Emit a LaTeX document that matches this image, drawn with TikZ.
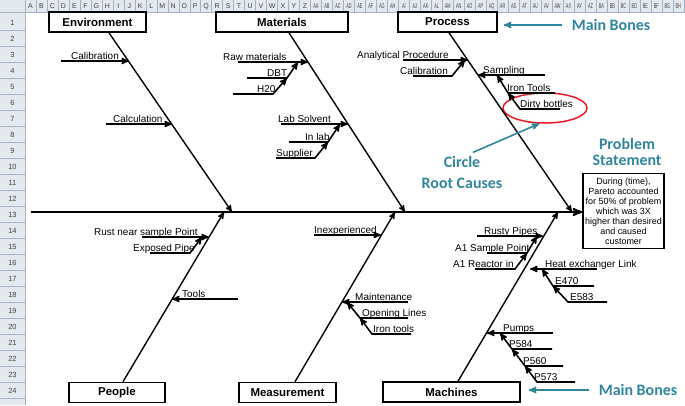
\documentclass[tikz,border=0pt]{standalone}
\usepackage{fontspec}
\setmainfont{Liberation Sans}
\newfontfamily\notefont{Carlito}
\usetikzlibrary{arrows,shapes.geometric,positioning}

\definecolor{notecolor}{RGB}{49,133,156}
\definecolor{hdrfill}{RGB}{228,233,240}
\definecolor{hdrline}{RGB}{165,178,196}
\definecolor{circred}{RGB}{232,28,36}

\begin{document}
\begin{tikzpicture}[x=1bp, y=-1bp, >=stealth',
	hdrtext/.style={font=\fontsize{7}{8}\selectfont, text=black!75, inner sep=0pt},
	bonebox/.style={draw, line width=1.6pt, inner sep=0pt, minimum height=20bp, font=\bfseries\fontsize{11.5}{13}\selectfont},
	probbox/.style={draw, line width=1.6pt, inner sep=0pt, minimum width=81bp, minimum height=75bp, align=center, font=\fontsize{9}{10}\selectfont},
	cause/.style={font=\fontsize{10}{12}\selectfont, inner sep=0pt, anchor=base west, yshift=-1bp},
	bone/.style={line width=1.4pt, ->},
	twig/.style={line width=1.6pt, ->},
	note/.style={text=notecolor, font=\notefont\bfseries\fontsize{16}{16}\selectfont, align=center},
	notearrow/.style={draw=notecolor, line width=1.6pt, ->}]

	\fill[white] (0,0) rectangle (685,405);
	\useasboundingbox (0,0) rectangle (685,405);

	% Sheet headers {A, B, ..., BH} and {1, ..., 24}
	\fill[hdrfill] (0,0) rectangle (685,12);
	\fill[hdrfill] (0,12) rectangle (25,405);
	\draw[hdrline] (0,12) -- (685,12);
	\draw[hdrline] (25,0) -- (25,405);
	\foreach \c [count=\i] in {A,B,C,D,E,F,G,H,I,J,K,L,M,N,O,P,Q,R,S,T,U,V,W,X,Y,Z,AA,AB,AC,AD,AE,AF,AG,AH,AI,AJ,AK,AL,AM,AN,AO,AP,AQ,AR,AS,AT,AU,AV,AW,AX,AY,AZ,BA,BB,BC,BD,BE,BF,BG,BH} {
		\pgfmathsetmacro\cx{25+10.98*\i}
		\draw[hdrline] (\cx,0) -- (\cx,12);
		\node[hdrtext] (col\i) at (\cx-5.49,6.5) {\ifnum\i>26 \scalebox{0.55}[1]{\c}\else\c\fi};
	}
	\foreach \r in {1,...,24} {
		\pgfmathsetmacro\ry{14.3+16*\r}
		\draw[hdrline] (0,\ry) -- (25,\ry);
		\node[hdrtext, font=\fontsize{7.5}{8}\selectfont] (row\r) at (12.5,\ry-7) {\r};
	}

	% Nodes {main bones, problem}
	\node [bonebox, minimum width=97bp]		(env)	at (97.5,22)	{Environment};
	\node [bonebox, minimum width=132bp]	(mat)	at (282,22)		{Materials};
	\node [bonebox, minimum width=99bp]		(proc)	at (447.5,22)	{Process};
	\node [bonebox, minimum width=96bp]		(ppl)	at (117,392.5)	{People};
	\node [bonebox, minimum width=97bp]		(meas)	at (287.5,392.5){Measurement};
	\node [bonebox, minimum width=137bp]	(mach)	at (451.5,392)	{Machines};
	\node [probbox]							(prob)	at (623.5,211)	{During (time),\\Pareto accounted\\for 50\% of problem\\which was 3X\\higher than desired\\and caused\\customer};

	% Notes
	\node [note]	(mbtop)		at (611,25)		{Main Bones};
	\node [note]	(mbbot)		at (638,390)	{Main Bones};
	\node [note]	(probtitle)	at (627,152)	{Problem\\Statement};
	\node [note]	(circnote)	at (462,172)	{Circle\\[5bp]Root Causes};
	\node [draw=circred, line width=1.5pt, ellipse, minimum width=84bp, minimum height=30bp] (rootc) at (545,108) {};

	% Cause texts
	\node [cause]	(envcal)	at (71,58)		{Calibration};
	\node [cause]	(envcalc)	at (113,121)	{Calculation};
	\node [cause]	(raw)		at (223,59)		{Raw materials};
	\node [cause]	(dbt)		at (267,75)		{DBT};
	\node [cause]	(htwo)		at (257,91)		{H20};
	\node [cause]	(labsol)	at (278,121)	{Lab Solvent};
	\node [cause]	(inlab)		at (305,139)	{In lab};
	\node [cause]	(supp)		at (276,155)	{Supplier};
	\node [cause]	(anal)		at (357,57)		{Analytical Procedure};
	\node [cause]	(proccal)	at (400,73)		{Calibration};
	\node [cause]	(samp)		at (483,72)		{Sampling};
	\node [cause]	(irontl)	at (507,90)		{Iron Tools};
	\node [cause]	(dirty)		at (520,106)	{Dirty bottles};
	\node [cause]	(rust)		at (94,234)		{Rust near sample Point};
	\node [cause]	(expipe)	at (133,250)	{Exposed Pipe};
	\node [cause]	(tools)		at (182,296)	{Tools};
	\node [cause]	(inexp)		at (314,232)	{Inexperienced};
	\node [cause]	(maint)		at (355,299)	{Maintenance};
	\node [cause]	(openl)		at (362,315)	{Opening Lines};
	\node [cause]	(irontls)	at (373,331)	{Iron tools};
	\node [cause]	(rusty)		at (484,233)	{Rusty Pipes};
	\node [cause]	(aonesp)	at (455,250)	{A1 Sample Point};
	\node [cause]	(aonera)	at (453,266)	{A1 Reactor in};
	\node [cause]	(heatx)		at (545,266)	{Heat exchanger Link};
	\node [cause]	(efour)		at (555,283)	{E470};
	\node [cause]	(efive)		at (570,299)	{E583};
	\node [cause]	(pumps)		at (503,330)	{Pumps};
	\node [cause]	(pfour)		at (509,346)	{P584};
	\node [cause]	(pfive)		at (523,363)	{P560};
	\node [cause]	(pseven)	at (534,379)	{P573};

	% Coordinates {bone hits, twig ends}
	\coordinate (spinetail)	at (31,212);
	\coordinate (envhit)	at (232,212);
	\coordinate (mathit)	at (405,212);
	\coordinate (prochit)	at (572,212);
	\coordinate (pplhit)	at (224,212);
	\coordinate (meashit)	at (395,212);
	\coordinate (machhit)	at (558,212);

	\coordinate (envcal-a)	at (61,61);		\coordinate (envcal-b)	at (129,61);
	\coordinate (envcalc-a)	at (106,124);	\coordinate (envcalc-b)	at (172,124);
	\coordinate (raw-a)		at (238,62);	\coordinate (raw-b)		at (308,62);
	\coordinate (dbt-a)		at (247,78);	\coordinate (dbt-k)		at (287,78);	\coordinate (dbt-b)		at (298,62);
	\coordinate (htwo-a)	at (233,94);	\coordinate (htwo-k)	at (273,94);
	\coordinate (labsol-a)	at (281,124);	\coordinate (labsol-b)	at (348,124);
	\coordinate (inlab-a)	at (289,142);	\coordinate (inlab-k)	at (328,142);	\coordinate (inlab-b)	at (340,124);
	\coordinate (supp-a)	at (276,158);	\coordinate (supp-k)	at (315,158);
	\coordinate (anal-a)	at (403,60);	\coordinate (anal-b)	at (468,60);
	\coordinate (proccal-a)	at (413,76);	\coordinate (proccal-k)	at (452,76);	\coordinate (proccal-b)	at (465,60);
	\coordinate (samp-a)	at (545,75);	\coordinate (samp-b)	at (478,75);
	\coordinate (irontl-a)	at (555,93);	\coordinate (irontl-k)	at (508,93);	\coordinate (irontl-b)	at (497,75);
	\coordinate (dirty-a)	at (560,109);	\coordinate (dirty-k)	at (520,109);
	\coordinate (rust-a)	at (142,237);	\coordinate (rust-b)	at (209,237);
	\coordinate (expipe-a)	at (150,253);	\coordinate (expipe-k)	at (190,253);	\coordinate (expipe-b)	at (202,237);
	\coordinate (tools-a)	at (238,299);	\coordinate (tools-b)	at (172,299);
	\coordinate (inexp-a)	at (314,235);	\coordinate (inexp-b)	at (381,235);
	\coordinate (maint-a)	at (408,302);	\coordinate (maint-b)	at (342,302);
	\coordinate (openl-a)	at (408,318);	\coordinate (openl-k)	at (360,318);	\coordinate (openl-b)	at (347,302);
	\coordinate (irontls-a)	at (411,334);	\coordinate (irontls-k)	at (372,334);
	\coordinate (rusty-a)	at (477,236);	\coordinate (rusty-b)	at (543,236);
	\coordinate (aonesp-a)	at (487,253);	\coordinate (aonesp-k)	at (527,253);	\coordinate (aonesp-b)	at (537,236);
	\coordinate (aonera-a)	at (475,269);	\coordinate (aonera-k)	at (515,269);
	\coordinate (heatx-a)	at (597,269);	\coordinate (heatx-b)	at (530,269);
	\coordinate (efour-a)	at (594,286);	\coordinate (efour-k)	at (553,286);	\coordinate (efour-b)	at (542,269);
	\coordinate (efive-a)	at (607,302);	\coordinate (efive-k)	at (568,302);
	\coordinate (pumps-a)	at (553,333);	\coordinate (pumps-b)	at (487,333);
	\coordinate (pfour-a)	at (552,349);	\coordinate (pfour-k)	at (512,349);	\coordinate (pfour-b)	at (500,333);
	\coordinate (pfive-a)	at (563,366);	\coordinate (pfive-k)	at (525,366);
	\coordinate (pseven-a)	at (575,382);	\coordinate (pseven-k)	at (537,382);

	% Spine and bones
	\draw [line width=2.2pt, ->]	(spinetail) -- (prob.west |- spinetail);
	\draw [bone]	([xshift=11.5bp]env.south)	-- (envhit);
	\draw [bone]	([xshift=7bp]mat.south)		-- (mathit);
	\draw [bone]	([xshift=1.5bp]proc.south)	-- (prochit);
	\draw [bone]	([xshift=6bp]ppl.north)		-- (pplhit);
	\draw [bone]	([xshift=7.5bp]meas.north)	-- (meashit);
	\draw [bone]	([xshift=6.5bp]mach.north)	-- (machhit);

	% Twigs
	\draw [twig]	(envcal-a)		-- (envcal-b);
	\draw [twig]	(envcalc-a)		-- (envcalc-b);
	\draw [twig]	(raw-a)			-- (raw-b);
	\draw [twig]	(dbt-a)			-- (dbt-k)		-- (dbt-b);
	\draw [twig]	(htwo-a)		-- (htwo-k)		-- (dbt-k);
	\draw [twig]	(labsol-a)		-- (labsol-b);
	\draw [twig]	(inlab-a)		-- (inlab-k)	-- (inlab-b);
	\draw [twig]	(supp-a)		-- (supp-k)		-- (inlab-k);
	\draw [twig]	(anal-a)		-- (anal-b);
	\draw [twig]	(proccal-a)		-- (proccal-k)	-- (proccal-b);
	\draw [twig]	(samp-a)		-- (samp-b);
	\draw [twig]	(irontl-a)		-- (irontl-k)	-- (irontl-b);
	\draw [twig]	(dirty-a)		-- (dirty-k)	-- (irontl-k);
	\draw [twig]	(rust-a)		-- (rust-b);
	\draw [twig]	(expipe-a)		-- (expipe-k)	-- (expipe-b);
	\draw [twig]	(tools-a)		-- (tools-b);
	\draw [twig]	(inexp-a)		-- (inexp-b);
	\draw [twig]	(maint-a)		-- (maint-b);
	\draw [twig]	(openl-a)		-- (openl-k)	-- (openl-b);
	\draw [twig]	(irontls-a)		-- (irontls-k)	-- (openl-k);
	\draw [twig]	(rusty-a)		-- (rusty-b);
	\draw [twig]	(aonesp-a)		-- (aonesp-k)	-- (aonesp-b);
	\draw [twig]	(aonera-a)		-- (aonera-k)	-- (aonesp-k);
	\draw [twig]	(heatx-a)		-- (heatx-b);
	\draw [twig]	(efour-a)		-- (efour-k)	-- (efour-b);
	\draw [twig]	(efive-a)		-- (efive-k)	-- (efour-k);
	\draw [twig]	(pumps-a)		-- (pumps-b);
	\draw [twig]	(pfour-a)		-- (pfour-k)	-- (pfour-b);
	\draw [twig]	(pfive-a)		-- (pfive-k)	-- (pfour-k);
	\draw [twig]	(pseven-a)		-- (pseven-k)	-- (pfive-k);

	% Note arrows
	\draw [notearrow]	([xshift=-6bp]mbtop.west)		-- ([xshift=6bp]proc.east |- mbtop);
	\draw [notearrow]	([xshift=-6bp]mbbot.west)		-- ([xshift=8bp]mach.east |- mbbot);
	\draw [notearrow]	([xshift=11bp]circnote.north)	-- (rootc.250);

\end{tikzpicture}
\end{document}
